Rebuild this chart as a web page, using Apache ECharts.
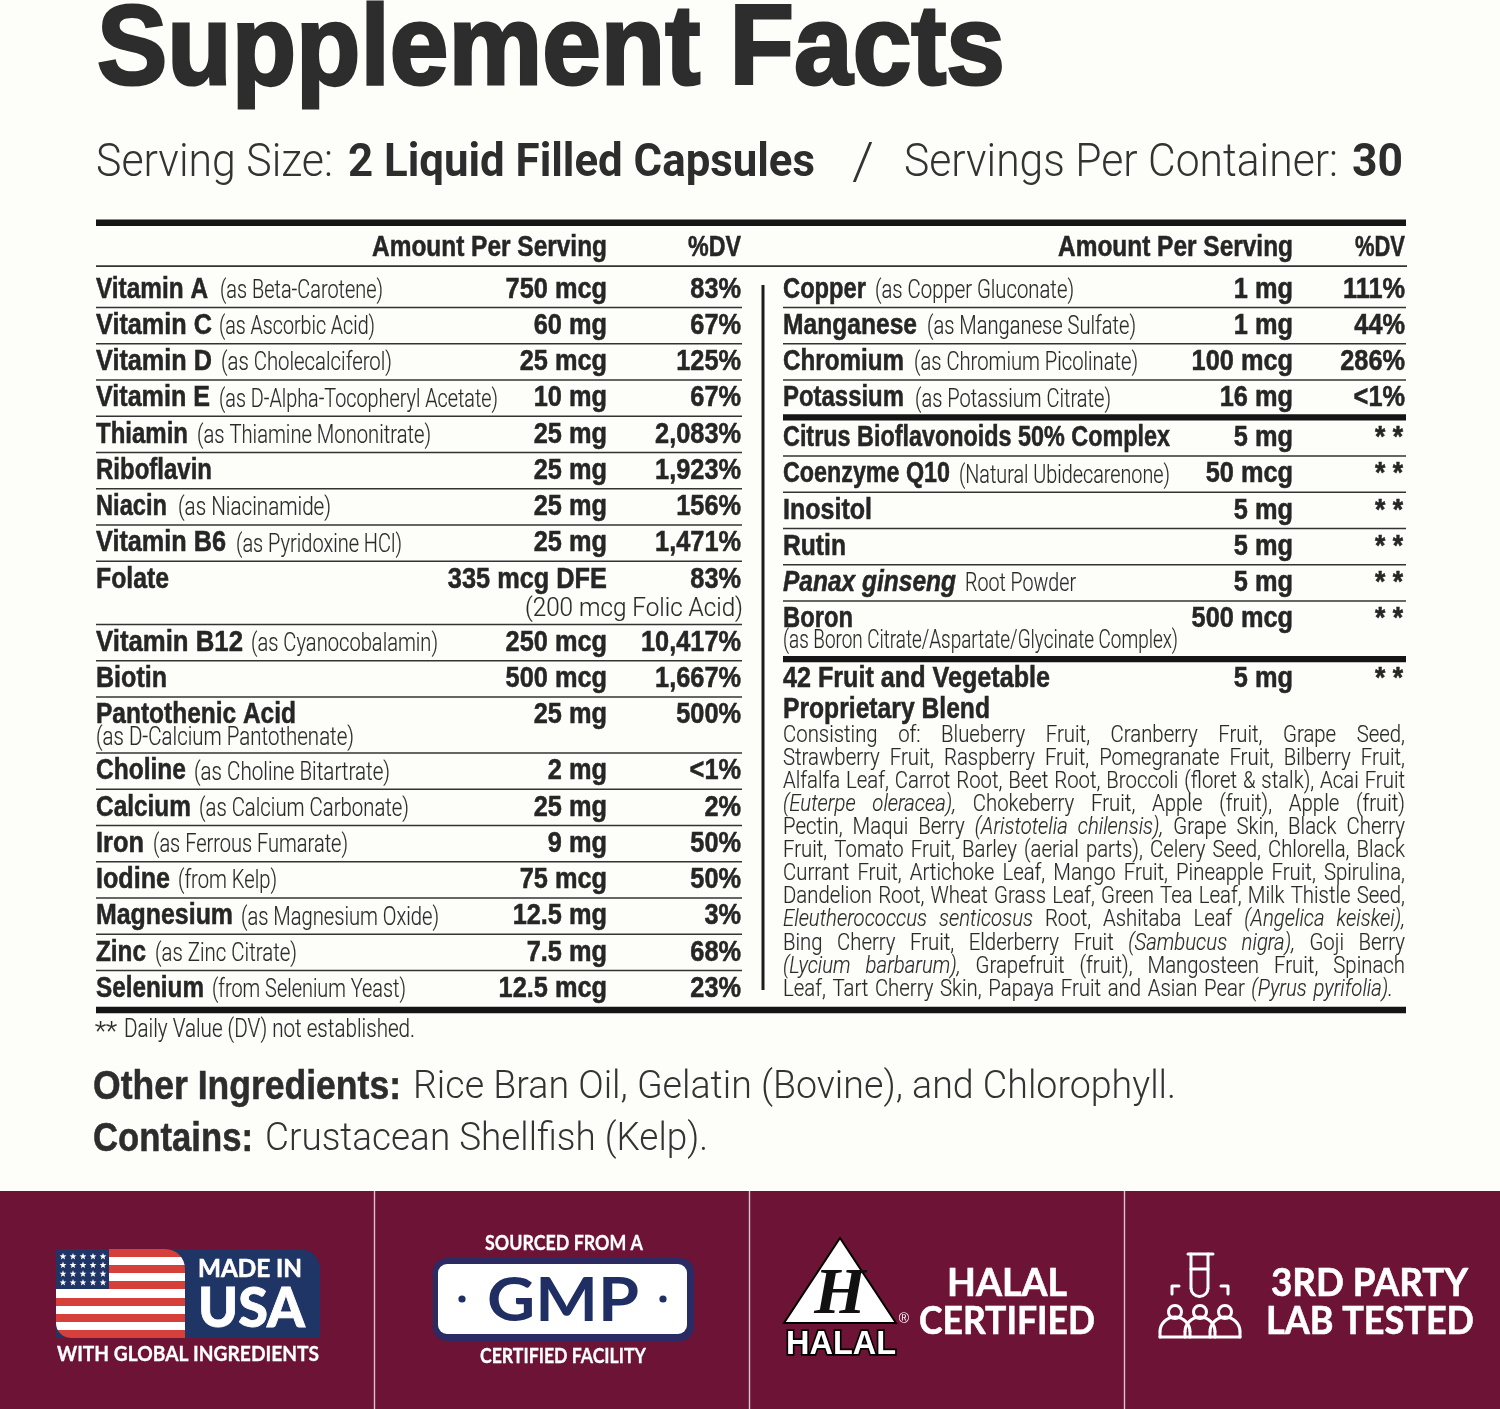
<!DOCTYPE html>
<html><head><meta charset="utf-8">
<style>html,body{margin:0;padding:0;background:#fdfdf9}#c{width:1500px;height:1409px}</style>
<script src="https://cdn.jsdelivr.net/npm/echarts@6/dist/echarts.min.js"></script>
</head><body><div id="c"></div>
<script>
const title = 'Supplement Facts';
const leftNames = ['Vitamin A','Vitamin C','Vitamin D','Vitamin E','Thiamin','Riboflavin','Niacin','Vitamin B6','Folate','Vitamin B12','Biotin','Pantothenic Acid','Choline','Calcium','Iron','Iodine','Magnesium','Zinc','Selenium'];
const leftDetails = ['(as Beta-Carotene)','(as Ascorbic Acid)','(as Cholecalciferol)','(as D-Alpha-Tocopheryl Acetate)','(as Thiamine Mononitrate)','','(as Niacinamide)','(as Pyridoxine HCl)','','(as Cyanocobalamin)','','','(as Choline Bitartrate)','(as Calcium Carbonate)','(as Ferrous Fumarate)','(from Kelp)','(as Magnesium Oxide)','(as Zinc Citrate)','(from Selenium Yeast)'];
const leftAmounts = ['750 mcg','60 mg','25 mcg','10 mg','25 mg','25 mg','25 mg','25 mg','335 mcg DFE','250 mcg','500 mcg','25 mg','2 mg','25 mg','9 mg','75 mcg','12.5 mg','7.5 mg','12.5 mcg'];
const leftDV = ['83%','67%','125%','67%','2,083%','1,923%','156%','1,471%','83%','10,417%','1,667%','500%','<1%','2%','50%','50%','3%','68%','23%'];
const rightNames = ['Copper','Manganese','Chromium','Potassium','Citrus Bioflavonoids 50% Complex','Coenzyme Q10','Inositol','Rutin','Panax ginseng','Boron','42 Fruit and Vegetable'];
const rightDetails = ['(as Copper Gluconate)','(as Manganese Sulfate)','(as Chromium Picolinate)','(as Potassium Citrate)','','(Natural Ubidecarenone)','','','Root Powder','',''];
const rightAmounts = ['1 mg','1 mg','100 mcg','16 mg','5 mg','50 mcg','5 mg','5 mg','5 mg','500 mcg','5 mg'];
const rightDV = ['111%','44%','286%','<1%','**','**','**','**','**','**','**'];
const blendLines = [
 'Consisting of: Blueberry Fruit, Cranberry Fruit, Grape Seed,',
 'Strawberry Fruit, Raspberry Fruit, Pomegranate Fruit, Bilberry Fruit,',
 'Alfalfa Leaf, Carrot Root, Beet Root, Broccoli (floret & stalk), Acai Fruit',
 '_(Euterpe oleracea),_ Chokeberry Fruit, Apple (fruit), Apple (fruit)',
 'Pectin, Maqui Berry _(Aristotelia chilensis),_ Grape Skin, Black Cherry',
 'Fruit, Tomato Fruit, Barley (aerial parts), Celery Seed, Chlorella, Black',
 'Currant Fruit, Artichoke Leaf, Mango Fruit, Pineapple Fruit, Spirulina,',
 'Dandelion Root, Wheat Grass Leaf, Green Tea Leaf, Milk Thistle Seed,',
 '_Eleutherococcus senticosus_ Root, Ashitaba Leaf _(Angelica keiskei),_',
 'Bing Cherry Fruit, Elderberry Fruit _(Sambucus nigra),_ Goji Berry',
 '_(Lycium barbarum),_ Grapefruit (fruit), Mangosteen Fruit, Spinach',
 'Leaf, Tart Cherry Skin, Papaya Fruit and Asian Pear _(Pyrus pyrifolia)._'
];

// layout only: right edge of each name, and [start,end] of each detail run
const leftNameEnd=[208,212,212,210,188,212,167,226,169,243,167,296,186,191,144,170,233,146,204];
const leftDetailSpan=[[220,383],[219,375],[221,392],[219,498],[197,431],null,[178,331],[236,402],null,[251,438],null,null,[194,390],[199,409],[153,348],[178,277],[241,439],[155,297],[212,406]];
const rightNameEnd=[866,917,904,904,1170,950,872,846,956,853,1050];
const rightDetailSpan=[[875,1074],[927,1136],[914,1138],[915,1111],null,[959,1170],null,null,[965,1076],null,null];

const INK='#262626', MAROON='#6d1335', NAVY='#1f3565';
const ctx=document.createElement('canvas').getContext('2d');
const els=[];
function fontOf(o){return `${o.style||'normal'} ${o.weight||'normal'} ${o.size}px "${o.family||'Liberation Sans'}"`;}
function mw(s,o){ctx.font=fontOf(o);return ctx.measureText(s).width;}
function T(x,base,s,o){
  const f=fontOf(o); const w=mw(s,o);
  const sx=o.w?o.w/w:(o.sx||1), sy=o.sy||1;
  els.push({type:'text',x:x,y:base-0.345*o.size*sy,scaleX:sx,scaleY:sy,z:o.z||5,silent:true,
    style:{text:s,font:f,fill:o.fill||INK,align:o.align||'left',verticalAlign:'middle',stroke:o.stroke||null,lineWidth:o.lw||0}});
  return w*sx;
}
function R(x,y,w,h,fill,r,z){els.push({type:'rect',silent:true,z:z||2,shape:{x,y,width:w,height:h,r:r||0},style:{fill}});}
function PL(points,stroke,lw){els.push({type:'polyline',silent:true,z:6,shape:{points},style:{fill:'none',stroke,lineWidth:lw,lineCap:'round',lineJoin:'round'}});}
function ARC(cx,cy,r,a,b,stroke,lw){els.push({type:'arc',silent:true,z:6,shape:{cx,cy,r,startAngle:a,endAngle:b,clockwise:true},style:{fill:'none',stroke,lineWidth:lw}});}

// type styles
const B={size:28,weight:'bold',sy:1.04,sx:0.905,stroke:INK,lw:0.5};
const D={size:24,family:'Roboto',weight:300,sy:1.06,sx:0.85,fill:'#2a2a2a',stroke:'#2a2a2a',lw:0.15};
const L={size:23,family:'Roboto',weight:300,sy:1.04,sx:0.885,fill:'#2a2a2a',stroke:'#2a2a2a',lw:0.15};

// header
T(97,92,title,{size:114,weight:'bold',w:908,stroke:'#2d2d2d',lw:3,fill:'#2d2d2d'});
const S={size:46,family:'Roboto',weight:300,fill:'#333'}, SB={size:46,weight:'bold',family:'Roboto',fill:'#2d2d2d'};
T(96,180,'Serving Size:',{...S,w:237});
T(348,180,'2 Liquid Filled Capsules',{...SB,w:467});
T(852,184,'/',{...S,size:52,w:22});
T(904,180,'Servings Per Container:',{...S,w:434});
T(1352,180,'30',{...SB,w:51});
R(96,219.5,1310,6.5,'#151515');
R(96,265.2,1311,1.8,'#333');
T(607,258,'Amount Per Serving',{...B,w:235,align:'right'});
T(741,258,'%DV',{...B,w:53,align:'right'});
T(1293,258,'Amount Per Serving',{...B,w:235,align:'right'});
T(1405,258,'%DV',{...B,w:50,align:'right'});
R(761.5,285,3,705,'#1c1c1c');

function row(x,top,name,nameEnd,det,span,amt,dv,amtR,dvR,italic){
  const base=top+28.3;
  T(x,base,name,{...B,style:italic?'italic':'normal',w:nameEnd-x});
  if(det) T(span[0],base+0.8,det,{...D,w:span[1]-span[0]});
  T(amtR,base,amt,{...B,align:'right'});
  if(dv==='**') T(dvR-2,base,'* *',{...B,align:'right',w:28});
  else T(dvR,base,dv,{...B,align:'right'});
}
const STEP=36.25;
// left column
let y=266;
leftNames.forEach((n,i)=>{
  row(96,y+(i===0?5.5:0),n,leftNameEnd[i],leftDetails[i],leftDetailSpan[i],leftAmounts[i],leftDV[i],607,741);
  let h=i===0?41.5:STEP;
  if(n==='Folate'){T(743,y+57,'(200 mcg Folic Acid)',{...D,size:25,align:'right',w:218});h=63.3;}
  if(n==='Pantothenic Acid'){T(96,y+50,'(as D-Calcium Pantothenate)',{...D,w:258});h=56;}
  y+=h;
  if(i<leftNames.length-1) R(96,y-0.8,646,1.6,'#333');
});
R(96,1006.8,1310,6.4,'#151515');

// right column
y=266;
rightNames.forEach((n,i)=>{
  const thickBefore=n.startsWith('Citrus')||n.startsWith('42');
  row(783,y+(i===0?5.5:0)+(thickBefore?2:0),n,rightNameEnd[i],rightDetails[i],rightDetailSpan[i],rightAmounts[i],rightDV[i],1293,1405,n==='Panax ginseng');
  let h=i===0?41.5:STEP;
  if(n==='Potassium')h=37.3;
  if(n.startsWith('Citrus'))h=38.7;
  if(n==='Boron'){T(783,y+49.5,'(as Boron Citrate/Aspartate/Glycinate Complex)',{...D,w:395});h=58;}
  y+=h;
  if(n==='Potassium'||n==='Boron') R(783,y-3,623,6.2,'#151515');
  else if(i<rightNames.length-1) R(783,y-0.8,623,1.6,'#333');
});
T(783,720.5,'Proprietary Blend',{...B,w:207});

// blend paragraph: words spread across the column width
blendLines.forEach((line,i)=>{
  const base=744+i*23.09;
  let it=false;
  const words=line.split(' ').map(t=>{
    if(t.startsWith('_')) it=true;
    const r={txt:t.replace(/_/g,''),o:{...L,style:it?'italic':'normal'}};
    if(t.endsWith('_')) it=false;
    return r;
  });
  const widths=words.map(w=>mw(w.txt,w.o)*w.o.sx);
  const sum=widths.reduce((a,b)=>a+b,0);
  const last=i===blendLines.length-1;
  const gap=last?(610-sum)/(words.length-1):(622-sum)/(words.length-1);
  let x=783;
  words.forEach((w,j)=>{T(x,base,w.txt,w.o);x+=widths[j]+gap;});
});

// footer text
T(95,1042,'**',{...D,w:22});
T(124,1039.5,'Daily Value (DV) not established.',{...D,w:291});
const O={size:37,family:'Roboto',weight:300,sy:1.06,fill:'#333'}, OB={size:37,weight:'bold',sy:1.08,stroke:'#2d2d2d',lw:0.5,fill:'#2d2d2d'};
T(93,1102,'Other Ingredients:',{...OB,w:308});
T(413,1102,'Rice Bran Oil, Gelatin (Bovine), and Chlorophyll.',{...O,w:763});
T(93,1154,'Contains:',{...OB,w:160});
T(265,1154,'Crustacean Shellfish (Kelp).',{...O,w:443});

// banner
R(0,1191,1500,218,MAROON,0,1);
[374.5,749.5,1124.5].forEach(x=>R(x-0.7,1191,1.4,218,'#d8c4cb',0,2));
const W='#ffffff', LA={family:'Lato',weight:'bold',fill:W};

// made in usa
R(56,1249,264,89,NAVY,[0,20,0,0],3);
const stripeColors=['#d5413a','#ffffff','#d5413a','#ffffff','#d5413a','#ffffff','#d5413a','#ffffff','#d5413a','#ffffff','#d5413a'];
const stops=[];stripeColors.forEach((c,i)=>{stops.push({offset:i/11,color:c},{offset:(i+1)/11,color:c});});
els.push({type:'rect',silent:true,z:4,shape:{x:56,y:1249,width:129,height:89,r:[0,20,0,15]},style:{fill:new echarts.graphic.LinearGradient(0,0,0,1,stops)}});
R(56,1249,53,40,NAVY,0,5);
for(let r=0;r<4;r++)for(let c=0;c<5;c++){
  const cx=63+c*10,cy=1256.5+r*8.7,pts=[];
  for(let k=0;k<10;k++){const a=-Math.PI/2+k*Math.PI/5,q=k%2?1.5:3.6;pts.push([cx+q*Math.cos(a),cy+q*Math.sin(a)]);}
  els.push({type:'polygon',silent:true,z:6,shape:{points:pts},style:{fill:W}});
}
T(198,1278,'MADE IN',{...LA,size:24,w:104,stroke:W,lw:0.6});
T(198,1328,'USA',{...LA,size:56,weight:900,w:107,stroke:W,lw:0.8});
T(57,1361,'WITH GLOBAL INGREDIENTS',{...LA,size:21,w:262,stroke:W,lw:0.3});

// gmp
T(485,1250,'SOURCED FROM A',{...LA,size:21,w:158,stroke:W,lw:0.3});
R(433,1258,261,83,'#2b2b64',14,3);
R(438,1264,249,70,W,9,4);
T(487,1322,'GMP',{...LA,size:62,fill:'#1f2f63',w:152});
[462,663].forEach(x=>els.push({type:'circle',silent:true,z:6,shape:{cx:x,cy:1299,r:3.6},style:{fill:'#1f2f63'}}));
T(480,1363,'CERTIFIED FACILITY',{...LA,size:21,w:166,stroke:W,lw:0.3});

// halal
els.push({type:'polygon',silent:true,z:4,shape:{points:[[840,1238],[896,1323],[784,1323]]},style:{fill:W,stroke:'#000',lineWidth:2}});
T(840,1319,'H',{family:'Liberation Serif',weight:'bold',style:'italic',size:66,fill:'#111',align:'center'});
T(841,1356,'HALAL',{size:34,weight:'bold',fill:W,stroke:'#000',lw:3.5,align:'center',w:110});
T(904,1324,'®',{size:14,fill:W,align:'center'});
T(947,1297,'HALAL',{...LA,size:39,w:120,stroke:W,lw:0.6});
T(919,1335,'CERTIFIED',{...LA,size:39,w:176,stroke:W,lw:0.6});

// lab
PL([[1188,1254],[1213,1254]],W,3);
PL([[1191,1254],[1191,1288]],W,3);
PL([[1208,1254],[1208,1288]],W,3);
ARC(1199.5,1288,8.5,0,Math.PI,W,3);
PL([[1191,1269],[1208,1269]],W,3);
PL([[1172,1294],[1172,1286],[1179,1286]],W,3);
PL([[1228,1294],[1228,1286],[1221,1286]],W,3);
[1175,1200,1225].forEach(cx=>{
  els.push({type:'circle',silent:true,z:6,shape:{cx,cy:1312,r:6.5},style:{fill:'none',stroke:W,lineWidth:3}});
  ARC(cx,1332,15,Math.PI,Math.PI*2,W,3);
  PL([[cx-15,1332],[cx-15,1337]],W,3);
  PL([[cx+15,1332],[cx+15,1337]],W,3);
});
PL([[1160,1337],[1240,1337]],W,3);
T(1271,1297,'3RD PARTY',{...LA,size:39,w:197,stroke:W,lw:0.6});
T(1266,1335,'LAB TESTED',{...LA,size:39,w:208,stroke:W,lw:0.6});

const chart=echarts.init(document.getElementById('c'),null,{renderer:'canvas'});
chart.setOption({animation:false,backgroundColor:'#fdfdf9',graphic:{elements:els}});
</script></body></html>
